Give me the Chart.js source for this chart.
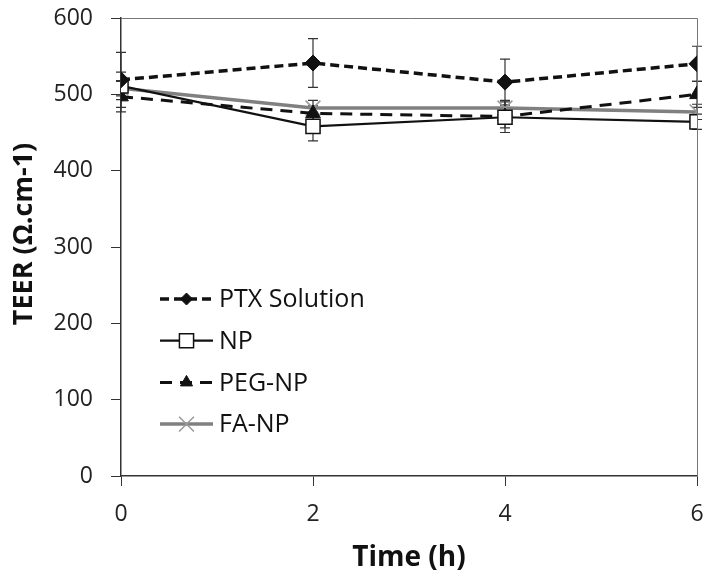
<!DOCTYPE html>
<html>
<head>
<meta charset="utf-8">
<script src="https://cdn.jsdelivr.net/npm/chart.js@4"></script>
<style>
  body { margin: 0; background: #fff; }
  #wrap { width: 714px; height: 583px; }
</style>
</head>
<body>
<div id="wrap"><canvas id="Chart1" width="714" height="583"></canvas></div>
<script>
// data
const times = [0, 2, 4, 6];
const seriesNames = ['PTX Solution', 'NP', 'PEG-NP', 'FA-NP'];
const ptxVals = [519, 541, 516, 540];
const ptxErr = [36, 32, 30, 23];
const npVals = [511, 458, 470, 464];
const npErr = [18, 19, 20, 10];
const pegVals = [497, 475, 471, 500];
const pegErr = [20, 10, 15, 17];
const faVals = [508, 482, 482, 477];
const faErr = [10, 10, 10, 10];
const yTicks = [0, 100, 200, 300, 400, 500, 600];
const xTicks = [0, 2, 4, 6];
const yTitle = 'TEER (Ω.cm-1)';
const xTitle = 'Time (h)';

function pts(vals) {
  return times.map((t, i) => ({ x: t, y: vals[i] }));
}

const FAMILY = '"Open Sans", "Liberation Sans", sans-serif';

// error bars under the lines
const errorBars = {
  id: 'errorBars',
  beforeDatasetsDraw(chart) {
    const ctx = chart.ctx;
    const xs = chart.scales.x, ys = chart.scales.y;
    ctx.save();
    ctx.strokeStyle = '#333';
    ctx.lineWidth = 1.2;
    chart.data.datasets.forEach(ds => {
      ds.data.forEach((p, i) => {
        const e = ds.errors[i];
        const px = xs.getPixelForValue(p.x);
        const top = ys.getPixelForValue(p.y + e);
        const bot = ys.getPixelForValue(p.y - e);
        ctx.beginPath();
        ctx.moveTo(px, top); ctx.lineTo(px, bot);
        ctx.moveTo(px - 5, top); ctx.lineTo(px + 5, top);
        ctx.moveTo(px - 5, bot); ctx.lineTo(px + 5, bot);
        ctx.stroke();
      });
    });
    ctx.restore();
  }
};

// frame on top and right, y title, plus line+marker legend
const frameLegend = {
  id: 'frameLegend',
  afterDraw(chart) {
    const ctx = chart.ctx;
    const a = chart.chartArea;
    ctx.save();
    ctx.strokeStyle = '#777';
    ctx.lineWidth = 1;
    ctx.beginPath();
    ctx.moveTo(a.left, a.top + 0.5); ctx.lineTo(a.right + 0.5, a.top + 0.5);
    ctx.lineTo(a.right + 0.5, a.bottom);
    ctx.stroke();

    // y axis title
    ctx.save();
    ctx.translate(24, a.top + 216);
    ctx.rotate(-Math.PI / 2);
    ctx.fillStyle = '#111';
    ctx.font = 'bold 27px ' + FAMILY;
    ctx.textAlign = 'center';
    ctx.textBaseline = 'middle';
    ctx.fillText(yTitle, 0, 0);
    ctx.restore();

    const x0 = a.left + 39, x1 = a.left + 92, mx = (x0 + x1) / 2;
    chart.data.datasets.forEach((ds, i) => {
      const y = a.top + 281 + i * 41.7;
      ctx.strokeStyle = ds.borderColor;
      ctx.lineWidth = ds.borderWidth;
      ctx.setLineDash(ds.borderDash || []);
      ctx.beginPath();
      ctx.moveTo(x0, y); ctx.lineTo(x1, y);
      ctx.stroke();
      ctx.setLineDash([]);
      ctx.fillStyle = ds.pointBackgroundColor;
      ctx.strokeStyle = ds.pointBorderColor;
      ctx.lineWidth = ds.pointBorderWidth;
      Chart.helpers.drawPoint(ctx, {
        pointStyle: ds.pointStyle,
        radius: ds.legendRadius,
        borderWidth: ds.pointBorderWidth
      }, mx, y);
      ctx.fillStyle = '#111';
      ctx.font = '25px ' + FAMILY;
      ctx.textBaseline = 'middle';
      ctx.textAlign = 'left';
      ctx.fillText(ds.label, x1 + 6, y + 1);
    });
    ctx.restore();
  }
};

const chartdata = {
  datasets: [
    {
      label: seriesNames[0], data: pts(ptxVals), errors: ptxErr,
      borderColor: '#111', borderWidth: 3.5, borderDash: [9, 5],
      pointStyle: 'rectRot', pointRadius: 8, legendRadius: 6, pointBorderWidth: 1,
      pointBackgroundColor: '#111', pointBorderColor: '#111'
    },
    {
      label: seriesNames[1], data: pts(npVals), errors: npErr,
      borderColor: '#111', borderWidth: 2.2,
      pointStyle: 'rect', pointRadius: 10, legendRadius: 10, pointBorderWidth: 1.5,
      pointBackgroundColor: '#fff', pointBorderColor: '#111'
    },
    {
      label: seriesNames[2], data: pts(pegVals), errors: pegErr,
      borderColor: '#111', borderWidth: 3, borderDash: [12, 8],
      pointStyle: 'triangle', pointRadius: 8.5, legendRadius: 7, pointBorderWidth: 1,
      pointBackgroundColor: '#111', pointBorderColor: '#111'
    },
    {
      label: seriesNames[3], data: pts(faVals), errors: faErr,
      borderColor: '#808080', borderWidth: 3.5,
      pointStyle: 'crossRot', pointRadius: 10.5, legendRadius: 10.5, pointBorderWidth: 1.5,
      pointBackgroundColor: '#999', pointBorderColor: '#999'
    }
  ]
};

const config = {
  type: 'line',
  data: chartdata,
  plugins: [errorBars, frameLegend],
  options: {
    responsive: false,
    animation: false,
    layout: { padding: { top: 18, right: 17, left: 0, bottom: 0 } },
    plugins: { legend: { display: false }, tooltip: { enabled: false } },
    scales: {
      x: {
        type: 'linear', min: 0, max: 6,
        afterBuildTicks: s => { s.ticks = xTicks.map(v => ({ value: v })); },
        afterFit: s => { s.height = 107; s.paddingLeft = 0; s.paddingRight = 0; },
        grid: { drawOnChartArea: false, tickLength: 10, color: '#333' },
        border: { color: '#333', width: 1.5 },
        ticks: { color: '#222', font: { family: FAMILY, size: 23 }, padding: 15 },
        title: { display: true, text: xTitle, color: '#111', font: { family: FAMILY, size: 28, weight: 'bold' }, padding: { top: 4, bottom: 8 } }
      },
      y: {
        min: 0, max: 600,
        afterBuildTicks: s => { s.ticks = yTicks.map(v => ({ value: v })); },
        afterFit: s => { s.width = 121; s.paddingTop = 0; s.paddingBottom = 0; },
        grid: { drawOnChartArea: false, tickLength: 10, color: '#333' },
        border: { color: '#333', width: 1.5 },
        ticks: { color: '#222', font: { family: FAMILY, size: 23 }, padding: 18 },
        title: { display: false }
      }
    }
  }
};

const myChart = new Chart(document.getElementById('Chart1'), config);
</script>
</body>
</html>
